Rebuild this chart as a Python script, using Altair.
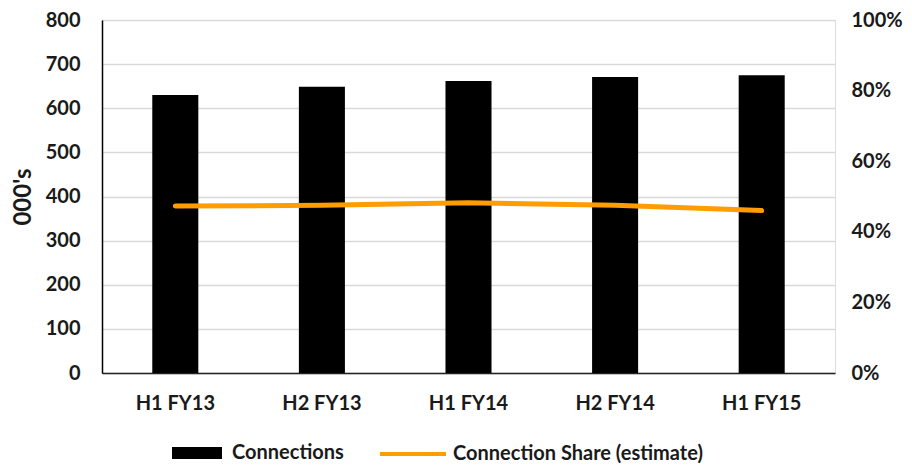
import altair as alt
import pandas as pd

periods = ["H1 FY13", "H2 FY13", "H1 FY14", "H2 FY14", "H1 FY15"]
connections = [630, 649, 662, 671, 675]
share = [0.473, 0.475, 0.482, 0.475, 0.460]
series_names = ["Connections", "Connection Share (estimate)"]
left_ticks = [0, 100, 200, 300, 400, 500, 600, 700, 800]
right_ticks = [0, 0.2, 0.4, 0.6, 0.8, 1.0]

df = pd.DataFrame({
    "period": periods,
    "connections": connections,
    "share": share,
    "s_bar": series_names[0],
    "s_line": series_names[1],
})

FONT = "Lato"
TXT = "#1a1a1a"
ORANGE = "#FF9D00"

legend_common = dict(
    title=None, orient="none", direction="horizontal", labelLimit=500,
    labelFont=FONT, labelFontSize=20, labelFontWeight="bold", labelColor=TXT,
)

bar_legend = alt.Legend(
    legendX=70, legendY=408, symbolType="M-1,-0.24H1V0.24H-1Z",
    symbolSize=2500, labelOffset=10, symbolStrokeWidth=0, symbolOpacity=1,
    **legend_common,
)
line_legend = alt.Legend(
    legendX=276, legendY=399, symbolType="stroke", symbolSize=4356,
    symbolStrokeWidth=4, labelOffset=5, symbolOpacity=1,
    **legend_common,
)

x_enc = alt.X(
    "period:N", sort=periods,
    scale=alt.Scale(paddingInner=0.686, paddingOuter=0.343),
    axis=alt.Axis(
        title=None, labelAngle=0, labelFont=FONT, labelFontSize=20,
        labelFontWeight="bold", labelColor=TXT, ticks=False, labelPadding=20,
        domainColor="#222222", domainWidth=1.5, grid=False,
    ),
)

bars = alt.Chart(df).mark_bar().encode(
    x=x_enc,
    y=alt.Y(
        "connections:Q",
        scale=alt.Scale(domain=[0, 800], nice=False),
        axis=alt.Axis(
            values=left_ticks, title="000's", titleFont=FONT, titleFontSize=24,
            titleFontWeight="bold", titleColor=TXT, titlePadding=10,
            labelFont=FONT, labelFontSize=20, labelFontWeight="bold", labelColor=TXT,
            ticks=False, labelPadding=22, domainColor="#000000", domainWidth=1.5,
            grid=True, gridColor="#d9d9d9", gridWidth=1.5,
        ),
    ),
    fill=alt.Fill("s_bar:N", scale=alt.Scale(domain=[series_names[0]], range=["#000000"]),
                  legend=bar_legend),
)

line = alt.Chart(df).mark_line(strokeWidth=5, strokeCap="round").encode(
    x=x_enc,
    y=alt.Y(
        "share:Q",
        scale=alt.Scale(domain=[0, 1], nice=False),
        axis=alt.Axis(
            orient="right", values=right_ticks, format="%", title=None,
            labelFont=FONT, labelFontSize=20, labelFontWeight="bold", labelColor=TXT,
            ticks=False, domain=False, grid=False, labelPadding=16,
        ),
    ),
    stroke=alt.Stroke("s_line:N", scale=alt.Scale(domain=[series_names[1]], range=[ORANGE]),
                      legend=line_legend),
)

chart = alt.layer(bars, line).resolve_scale(y="independent").properties(
    width=733, height=353,
    autosize=alt.AutoSizeParams(type="none"),
    padding={"left": 94, "top": 12, "right": 69, "bottom": 90},
).configure_view(stroke=None).configure(background="white")

chart.save("out.html", embed_options={"renderer": "svg", "actions": False})
